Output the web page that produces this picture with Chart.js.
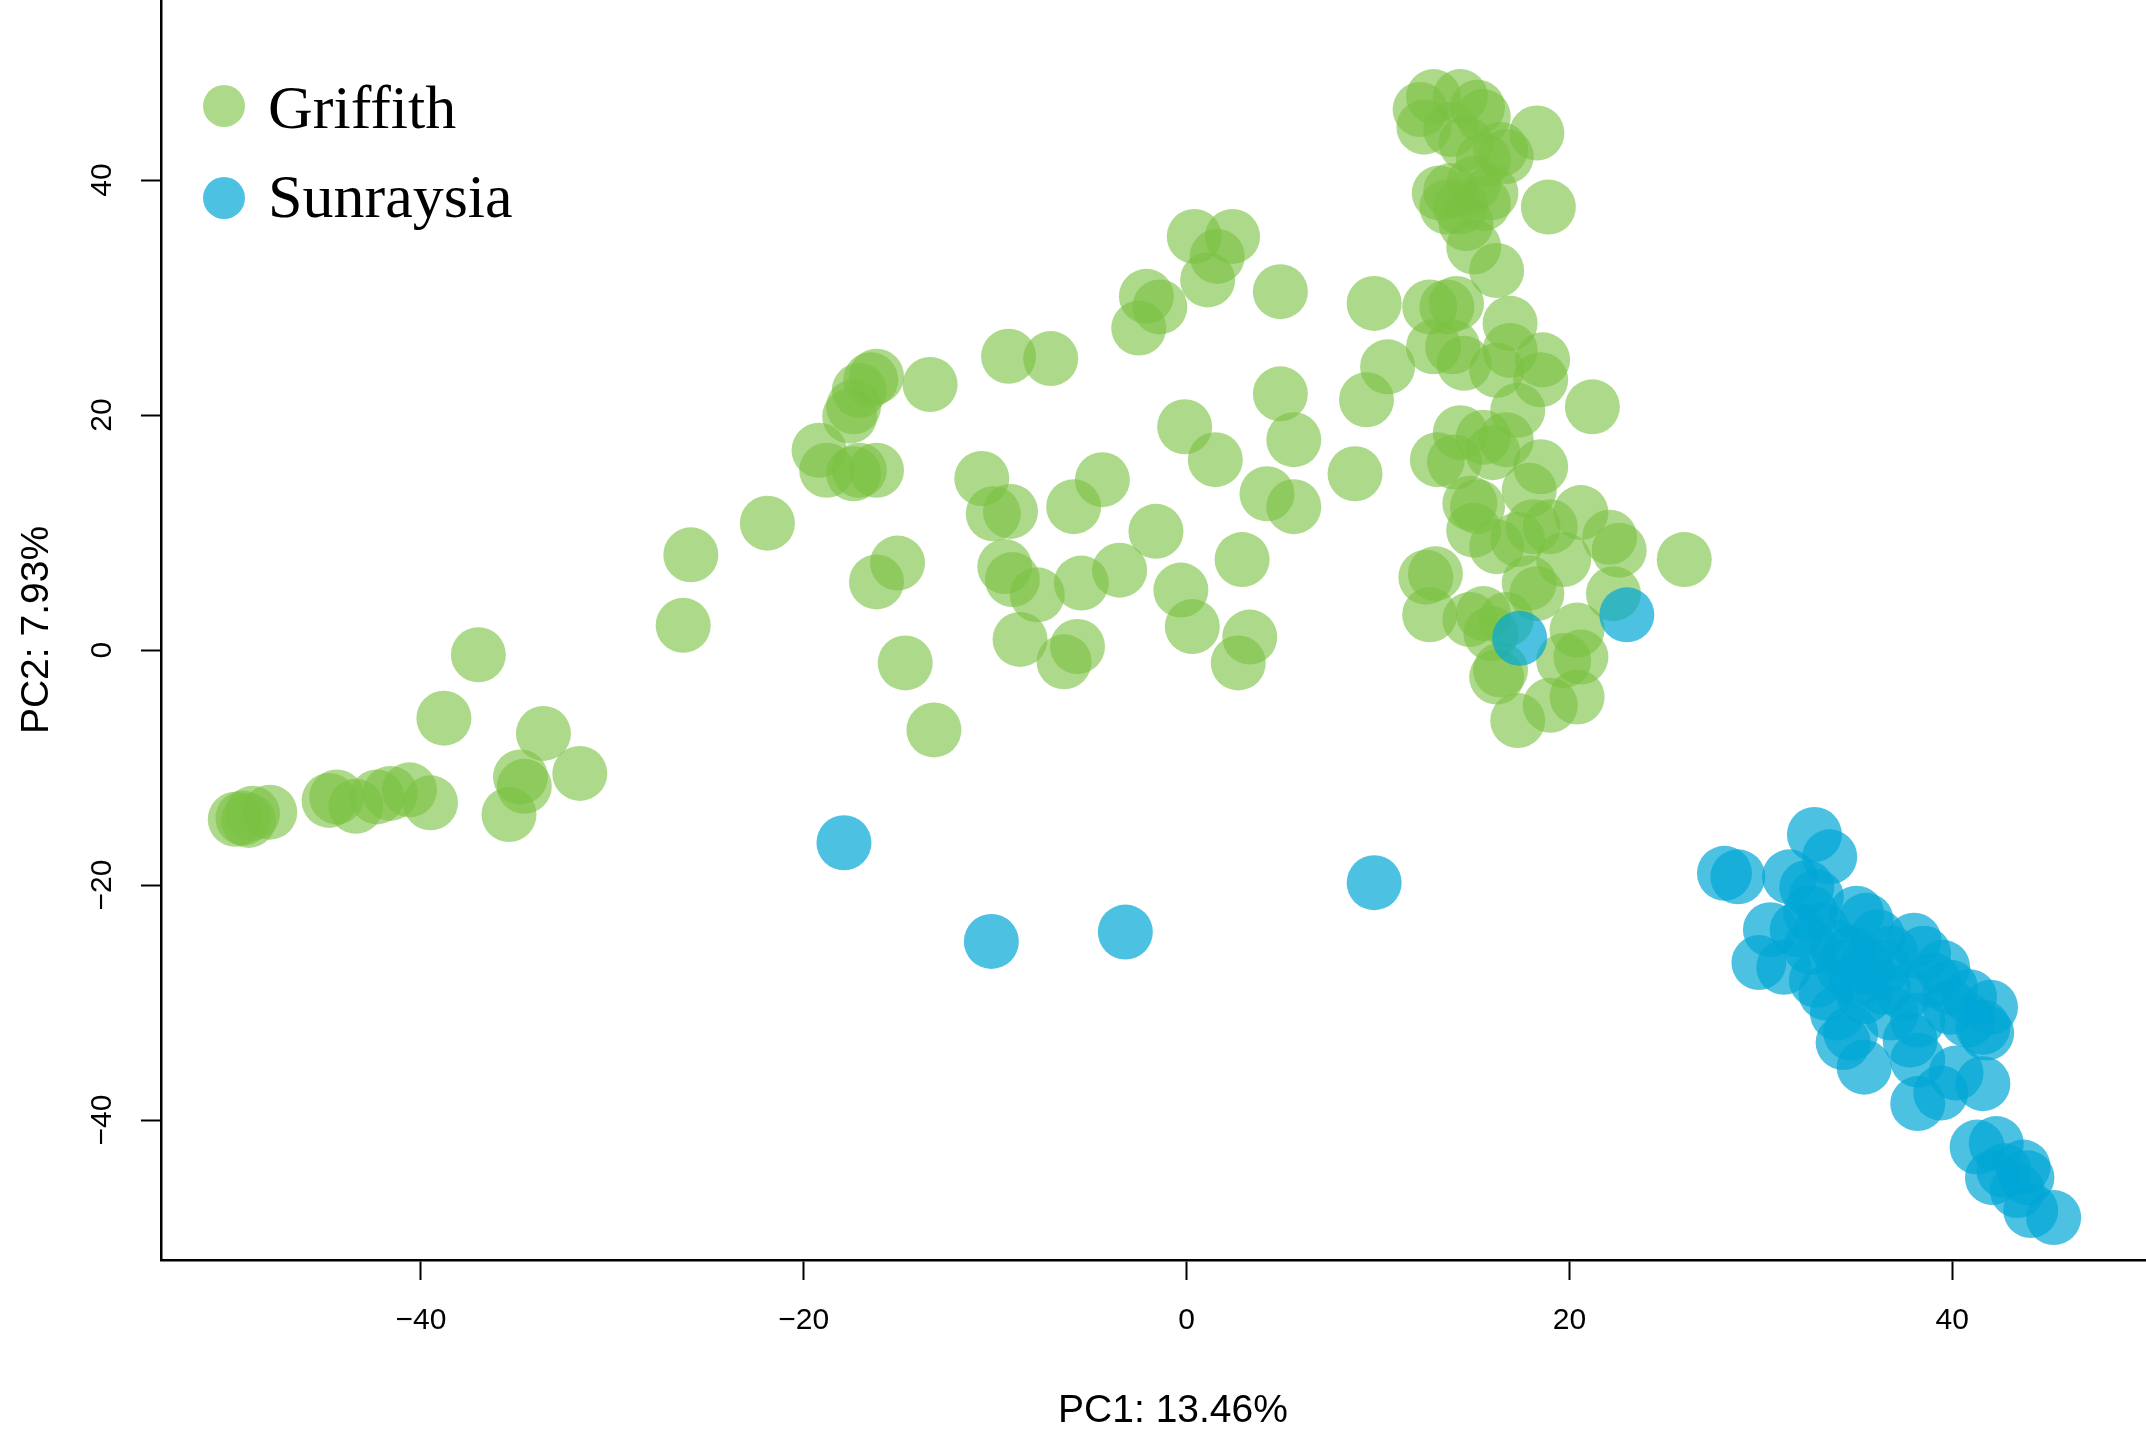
<!DOCTYPE html>
<html>
<head>
<meta charset="utf-8">
<title>PCA - Griffith / Sunraysia</title>
<script src="https://cdn.jsdelivr.net/npm/chart.js@4.4.1/dist/chart.umd.min.js"></script>
<style>
  html, body { margin: 0; padding: 0; background: #fff; overflow: hidden; }
  /* the original plot runs past the right edge of the picture, so the canvas is a bit wider and cut off */
  #wrap { position: relative; width: 2146px; height: 1440px; overflow: hidden; }
  #pca { display: block; }
  .legend { position: absolute; left: 0; top: 0; font-family: "Liberation Serif", "Times New Roman", serif; font-size: 62px; line-height: 62px; color: #000; }
  .legend .item { position: absolute; left: 268px; white-space: nowrap; }
  .legend .dot { position: absolute; left: 203px; width: 42px; height: 42px; border-radius: 50%; }
</style>
</head>
<body>
<div id="wrap">
  <canvas id="pca" width="2185" height="1440"></canvas>
  <div class="legend" id="legend"></div>
</div>
<script>
// PC1 / PC2 scores, [pc1, pc2]
const griffith = [
  [-49.7, -14.4], [-49.3, -14.3], [-49.0, -14.5], [-48.8, -13.9], [-47.9, -13.8],
  [-44.8, -12.8], [-44.4, -12.5], [-43.4, -13.3], [-42.3, -12.5], [-41.6, -12.2],
  [-40.6, -11.9], [-39.5, -13.0], [-37.0, -0.4], [-38.8, -5.8], [-33.6, -7.1],
  [-34.8, -10.8], [-34.6, -11.6], [-31.7, -10.5], [-35.4, -14.0],
  [-26.3, 2.1], [-25.9, 8.1], [-21.9, 10.8],
  [-19.2, 17.0], [-18.8, 15.3], [-17.4, 15.0], [-17.1, 15.3], [-16.2, 15.3],
  [-17.1, 22.1], [-16.5, 23.0], [-17.4, 20.7], [-17.6, 19.9], [-16.2, 23.3],
  [-13.4, 22.6], [-9.3, 25.0], [-7.1, 24.8],
  [-15.1, 7.4], [-16.2, 5.8], [-14.7, -1.1], [-13.2, -6.8],
  [-10.7, 14.6], [-10.1, 11.6], [-9.2, 11.8], [-5.9, 12.2], [-4.4, 14.5],
  [-9.5, 7.1], [-9.1, 6.0], [-7.8, 4.7], [-5.5, 5.7], [-3.5, 6.8],
  [-8.7, 0.9], [-5.7, 0.3], [-6.4, -1.0],
  [0.4, 35.2], [2.4, 35.2], [1.6, 33.5], [1.1, 31.5],
  [-2.1, 30.1], [-1.4, 29.2], [-2.5, 27.4], [4.9, 30.5], [9.8, 29.5],
  [10.5, 24.1], [9.4, 21.3], [4.9, 21.8], [5.6, 17.9], [-0.1, 19.0],
  [1.5, 16.2], [4.2, 13.3], [5.6, 12.2], [8.8, 15.0], [-1.6, 10.1],
  [2.9, 7.7], [-0.3, 5.1], [0.3, 2.0], [3.3, 1.1], [2.7, -1.1],
  [12.9, 47.1], [12.2, 46.0], [12.4, 44.5], [14.3, 47.1], [15.2, 46.2],
  [15.5, 45.4], [13.8, 44.3], [14.6, 43.1], [16.4, 42.6], [16.7, 42.0],
  [15.5, 41.7], [18.3, 44.0], [13.2, 38.9], [13.8, 39.1], [14.3, 37.7],
  [15.5, 38.0], [15.0, 39.7], [13.6, 37.7], [15.9, 38.9], [18.9, 37.7],
  [14.6, 36.3], [15.0, 34.3], [16.2, 32.3], [13.6, 29.2], [14.1, 29.5],
  [12.7, 29.2], [16.9, 27.8], [13.9, 25.8], [14.5, 24.4], [12.9, 25.8],
  [16.2, 23.8], [16.9, 25.5], [18.6, 24.7], [18.5, 23.0], [21.2, 20.7],
  [17.3, 20.4], [15.5, 18.1], [14.3, 18.5], [16.7, 17.9], [14.0, 16.0],
  [16.0, 16.8], [13.1, 16.2], [18.5, 15.6], [17.9, 13.6], [14.8, 12.5],
  [15.2, 12.2], [15.0, 10.2], [18.1, 10.5], [19.0, 10.5], [17.3, 9.4],
  [16.2, 8.8], [20.6, 11.7], [22.1, 9.6], [22.6, 8.5], [26.0, 7.7],
  [13.0, 6.5], [12.5, 6.2], [19.7, 7.7], [17.9, 5.7], [18.3, 4.8],
  [22.3, 4.8], [12.7, 3.0], [14.8, 2.6], [15.5, 3.1], [15.9, 1.4],
  [16.7, 2.6], [20.4, 1.7], [20.6, -0.6], [19.7, -0.9], [16.2, -2.3],
  [16.4, -1.7], [20.4, -4.0], [19.0, -4.7], [17.3, -6.0]
];

const sunraysia = [
  [-17.9, -16.4], [-10.2, -24.8], [-3.2, -24.0], [9.8, -19.8], [17.4, 1.0], [23.0, 3.0],
  [28.1, -19.0], [28.8, -19.3], [32.8, -15.7], [33.6, -17.6], [31.5, -19.3],
  [32.4, -20.2], [32.9, -21.0], [30.5, -23.8], [29.9, -26.6], [31.9, -23.8],
  [31.2, -27.0], [35.0, -22.4], [35.5, -23.0], [34.0, -25.3], [34.7, -25.8],
  [32.9, -28.1], [38.0, -24.7], [38.5, -25.8], [39.5, -27.0], [39.9, -28.7],
  [36.4, -27.0], [35.4, -29.5], [34.0, -30.9], [34.7, -32.6], [33.4, -29.2],
  [37.5, -29.2], [38.2, -31.5], [40.8, -31.5], [41.6, -32.1], [42.0, -30.4],
  [39.9, -30.4], [37.8, -33.2], [34.3, -33.4], [35.4, -35.5], [38.2, -34.9],
  [40.2, -36.0], [41.6, -36.9], [38.2, -38.6], [39.4, -37.7], [41.3, -42.3],
  [42.3, -42.0], [42.1, -44.9], [42.7, -44.3], [43.7, -44.0], [43.9, -44.9],
  [44.1, -47.7], [45.3, -48.3], [43.4, -46.0], [32.6, -22.4], [33.2, -23.8],
  [36.1, -24.4], [36.8, -25.8], [35.5, -27.0], [34.3, -27.0], [32.6, -25.3],
  [36.4, -28.7], [35.0, -28.1], [39.0, -28.1], [40.9, -29.5], [41.8, -32.6],
  [36.8, -30.9]
];

const groupNames = ['Griffith', 'Sunraysia'];
const groupColors = ['rgba(122, 193, 66, 0.62)', 'rgba(0, 166, 214, 0.7)'];
const tickValues = [-40, -20, 0, 20, 40];
const axisTitles = ['PC1: 13.46%', 'PC2: 7.93%'];

const toXY = arr => arr.map(p => ({ x: p[0], y: p[1] }));
const fmtTick = v => (v < 0 ? '\u2212' + Math.abs(v) : String(v));
const setTicks = s => { s.ticks = tickValues.map(v => ({ value: v })); };

Chart.defaults.font.family = '"Liberation Sans", Arial, sans-serif';
Chart.defaults.color = '#000';

new Chart(document.getElementById('pca'), {
    type: 'scatter',
    data: {
        datasets: [
            // sunraysia goes on top of griffith
            { label: groupNames[1], data: toXY(sunraysia), backgroundColor: groupColors[1], order: 0 },
            { label: groupNames[0], data: toXY(griffith), backgroundColor: groupColors[0], order: 1 }
        ]
    },
    options: {
        responsive: false,
        animation: false,
        devicePixelRatio: 1,
        events: [],
        layout: { autoPadding: false, padding: 0 },
        elements: { point: { radius: 27.5, hoverRadius: 27.5, borderWidth: 0 } },
        plugins: { legend: { display: false }, tooltip: { enabled: false } },
        scales: {
            x: {
                type: 'linear',
                min: -53.58,
                max: 52.16,
                afterBuildTicks: setTicks,
                afterFit: s => { s.height = 180; s.paddingLeft = 0; s.paddingRight = 0; },
                grid: { drawOnChartArea: false, drawTicks: true, tickLength: 20, tickWidth: 2, tickColor: '#000', color: '#000' },
                border: { display: true, color: '#000', width: 2.5 },
                ticks: { callback: fmtTick, font: { size: 30 }, padding: 23, maxRotation: 0, color: '#000' },
                title: { display: true, text: axisTitles[0], font: { size: 39 }, padding: { top: 0, bottom: 5 }, color: '#000' }
            },
            y: {
                type: 'linear',
                min: -51.91,
                max: 55.32,
                afterBuildTicks: setTicks,
                afterFit: s => { s.width = 161; s.paddingTop = 0; s.paddingBottom = 0; },
                grid: { drawOnChartArea: false, drawTicks: true, tickLength: 20, tickWidth: 2, tickColor: '#000', color: '#000' },
                border: { display: true, color: '#000', width: 2.5 },
                ticks: { callback: fmtTick, font: { size: 30 }, padding: 13, minRotation: 90, maxRotation: 90, crossAlign: 'center', color: '#000' },
                title: { display: true, text: axisTitles[1], font: { size: 39 }, padding: { top: 14, bottom: 0 }, color: '#000' }
            }
        }
    }
});

// legend in the top left corner of the plot
const legend = document.getElementById('legend');
const legendDotTop = [85, 177];
const legendTextTop = [76, 165];
groupNames.forEach((name, i) => {
    const dot = document.createElement('div');
    dot.className = 'dot';
    dot.style.top = legendDotTop[i] + 'px';
    dot.style.background = groupColors[i];
    legend.appendChild(dot);

    const txt = document.createElement('div');
    txt.className = 'item';
    txt.style.top = legendTextTop[i] + 'px';
    txt.textContent = name;
    legend.appendChild(txt);
});
</script>
</body>
</html>
